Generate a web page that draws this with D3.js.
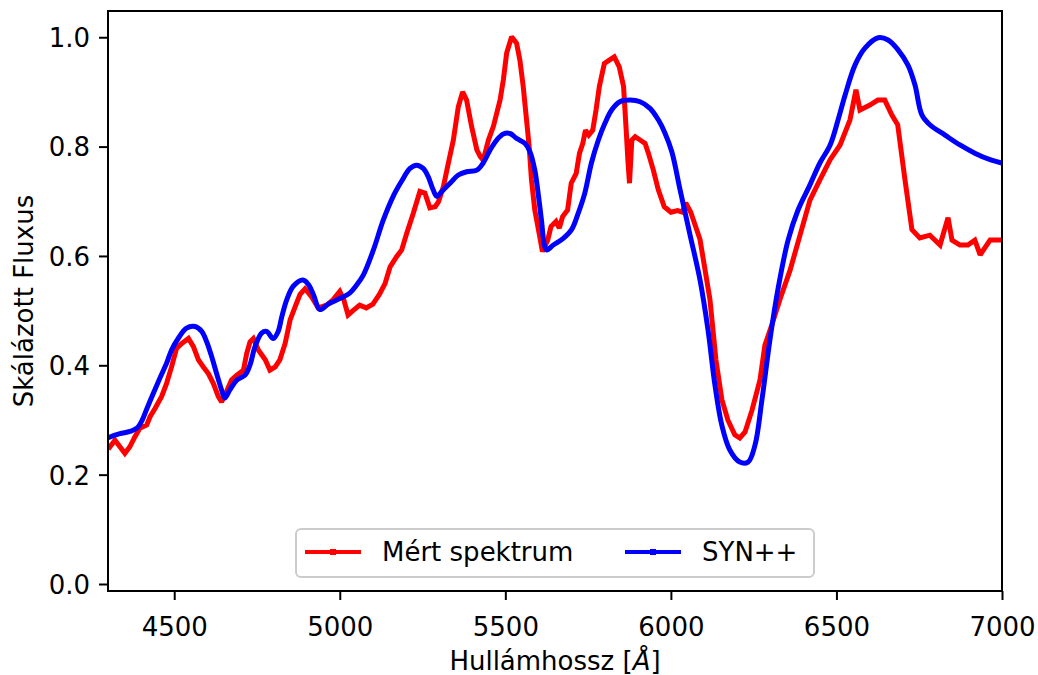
<!DOCTYPE html>
<html>
<head>
<meta charset="utf-8">
<script src="https://cdn.jsdelivr.net/npm/d3@7"></script>
<style>
  html, body { margin: 0; padding: 0; background: #fff; }
  svg { display: block; }
  text { font-family: "DejaVu Sans", sans-serif; fill: #000; }
</style>
</head>
<body>
<svg id="chart" width="1038" height="675"></svg>
<script>
// Measured spectrum: wavelength (Å) and scaled flux
const measuredWave = [
  4300, 4306, 4321, 4336, 4351, 4366, 4381, 4396, 4417, 4427, 4442, 4462, 4477, 4492, 4507, 4523,
  4543, 4558, 4573, 4588, 4603, 4618, 4633, 4643, 4658, 4673, 4689, 4709, 4719, 4729, 4739, 4754,
  4775, 4789, 4805, 4819, 4835, 4850, 4865, 4880, 4895, 4915, 4935, 4960, 4980, 5000, 5012, 5025,
  5040, 5060, 5080, 5100, 5120, 5137, 5152, 5172, 5187, 5202, 5222, 5242, 5257, 5272, 5288, 5298,
  5313, 5328, 5343, 5358, 5371, 5383, 5398, 5414, 5424, 5433, 5449, 5464, 5474, 5484, 5494, 5504,
  5519, 5534, 5544, 5554, 5564, 5572, 5579, 5589, 5604, 5612, 5628, 5638, 5653, 5663, 5673, 5688,
  5699, 5714, 5724, 5734, 5742, 5752, 5764, 5774, 5784, 5799, 5814, 5829, 5844, 5857, 5865, 5870,
  5875, 5882, 5892, 5907, 5922, 5932, 5947, 5962, 5980, 6000, 6020, 6035, 6045, 6060, 6088, 6118,
  6136, 6154, 6172, 6193, 6208, 6224, 6245, 6269, 6284, 6305, 6329, 6360, 6390, 6420, 6450, 6481,
  6511, 6541, 6559, 6571, 6601, 6625, 6646, 6667, 6685, 6707, 6728, 6752, 6782, 6813, 6837, 6849,
  6873, 6897, 6918, 6934, 6964, 7000
];
const measuredFlux = [
  0.255, 0.251, 0.263, 0.251, 0.239, 0.251, 0.269, 0.285, 0.291, 0.306, 0.321, 0.343, 0.367, 0.397, 0.431, 0.440,
  0.449, 0.434, 0.410, 0.397, 0.385, 0.367, 0.343, 0.333, 0.352, 0.373, 0.382, 0.391, 0.422, 0.443, 0.449, 0.428,
  0.410, 0.391, 0.397, 0.410, 0.440, 0.483, 0.507, 0.530, 0.540, 0.525, 0.505, 0.510, 0.520, 0.535, 0.520, 0.492,
  0.500, 0.510, 0.505, 0.512, 0.530, 0.550, 0.580, 0.599, 0.611, 0.641, 0.678, 0.718, 0.715, 0.688, 0.690, 0.699,
  0.727, 0.770, 0.812, 0.873, 0.900, 0.885, 0.837, 0.794, 0.782, 0.775, 0.812, 0.837, 0.861, 0.885, 0.922, 0.971,
  1.001, 0.989, 0.958, 0.910, 0.849, 0.800, 0.739, 0.684, 0.635, 0.608, 0.629, 0.654, 0.663, 0.651, 0.672, 0.684,
  0.733, 0.751, 0.788, 0.806, 0.830, 0.821, 0.830, 0.867, 0.910, 0.952, 0.958, 0.964, 0.946, 0.910, 0.830, 0.776,
  0.733, 0.812, 0.818, 0.812, 0.806, 0.788, 0.757, 0.721, 0.690, 0.680, 0.683, 0.680, 0.697, 0.680, 0.630, 0.520,
  0.410, 0.337, 0.300, 0.273, 0.267, 0.278, 0.318, 0.373, 0.437, 0.474, 0.520, 0.574, 0.638, 0.702, 0.739, 0.776,
  0.803, 0.849, 0.904, 0.867, 0.876, 0.885, 0.885, 0.858, 0.840, 0.739, 0.648, 0.633, 0.638, 0.620, 0.670, 0.629,
  0.620, 0.620, 0.629, 0.602, 0.629, 0.629
];

// SYN++ synthetic spectrum: wavelength (Å) and scaled flux
const synWave = [
  4300, 4306, 4336, 4366, 4387, 4402, 4417, 4437, 4457, 4477, 4492, 4512, 4537, 4563, 4583, 4598,
  4613, 4628, 4643, 4653, 4668, 4689, 4714, 4729, 4744, 4764, 4779, 4799, 4814, 4825, 4840, 4860,
  4889, 4905, 4920, 4940, 4965, 5000, 5030, 5050, 5071, 5101, 5131, 5162, 5187, 5212, 5232, 5252,
  5267, 5282, 5293, 5308, 5333, 5358, 5383, 5414, 5433, 5454, 5474, 5494, 5514, 5534, 5559, 5574,
  5589, 5599, 5609, 5619, 5625, 5645, 5675, 5700, 5720, 5740, 5760, 5781, 5801, 5821, 5846, 5877,
  5907, 5937, 5962, 5982, 6003, 6028, 6058, 6088, 6112, 6133, 6154, 6178, 6208, 6233, 6254, 6275,
  6299, 6323, 6354, 6384, 6420, 6450, 6481, 6505, 6526, 6556, 6586, 6626, 6656, 6686, 6716, 6737,
  6758, 6782, 6828, 6873, 6918, 6964, 7000
];
const synFlux = [
  0.267, 0.269, 0.275, 0.279, 0.285, 0.298, 0.320, 0.349, 0.377, 0.404, 0.428, 0.449, 0.468, 0.471, 0.462, 0.443,
  0.416, 0.385, 0.355, 0.340, 0.355, 0.373, 0.382, 0.401, 0.434, 0.459, 0.462, 0.449, 0.462, 0.489, 0.520, 0.545,
  0.556, 0.548, 0.530, 0.502, 0.512, 0.522, 0.532, 0.546, 0.565, 0.610, 0.665, 0.710, 0.737, 0.760, 0.766, 0.760,
  0.745, 0.721, 0.709, 0.718, 0.733, 0.748, 0.754, 0.757, 0.770, 0.794, 0.812, 0.823, 0.824, 0.815, 0.806, 0.791,
  0.757, 0.715, 0.666, 0.617, 0.611, 0.620, 0.632, 0.648, 0.678, 0.715, 0.770, 0.812, 0.843, 0.867, 0.882, 0.885,
  0.882, 0.870, 0.849, 0.825, 0.790, 0.720, 0.638, 0.556, 0.465, 0.364, 0.290, 0.245, 0.223, 0.223, 0.254, 0.337,
  0.446, 0.538, 0.629, 0.684, 0.730, 0.770, 0.803, 0.849, 0.894, 0.949, 0.980, 0.999, 0.995, 0.977, 0.949, 0.913,
  0.858, 0.840, 0.821, 0.803, 0.788, 0.776, 0.770
];

const xTicks = [4500, 5000, 5500, 6000, 6500, 7000];
const yTicks = [0.0, 0.2, 0.4, 0.6, 0.8, 1.0];
const seriesNames = ["Mért spektrum", "SYN++"];
const seriesColors = ["#ff0000", "#0000ff"];

const svg = d3.select("#chart");
const plot = { left: 108, right: 1002, top: 11, bottom: 591 };

const x = d3.scaleLinear().domain([4300, 7000]).range([plot.left, plot.right]);
const y = d3.scaleLinear().domain([-0.0128, 1.048]).range([plot.bottom, plot.top]);

svg.append("defs").append("clipPath").attr("id", "plot-clip")
  .append("rect")
  .attr("x", plot.left).attr("y", plot.top)
  .attr("width", plot.right - plot.left).attr("height", plot.bottom - plot.top);

const lineGen = (curve) => d3.line().x(d => x(d[0])).y(d => y(d[1])).curve(curve);

const measured = d3.zip(measuredWave, measuredFlux);
const syn = d3.zip(synWave, synFlux);

const lines = svg.append("g").attr("clip-path", "url(#plot-clip)");
lines.append("path")
  .datum(measured)
  .attr("d", lineGen(d3.curveLinear))
  .attr("fill", "none")
  .attr("stroke", seriesColors[0])
  .attr("stroke-width", 5)
  .attr("stroke-linejoin", "miter")
  .attr("stroke-miterlimit", 2);
lines.append("path")
  .datum(syn)
  .attr("d", lineGen(d3.curveCatmullRom.alpha(0.5)))
  .attr("fill", "none")
  .attr("stroke", seriesColors[1])
  .attr("stroke-width", 5)
  .attr("stroke-linejoin", "round");

// Axes
const fontSize = 26;
const xAxis = d3.axisBottom(x).tickValues(xTicks).tickSize(9).tickPadding(9).tickFormat(d3.format("d"));
const yAxis = d3.axisLeft(y).tickValues(yTicks).tickSize(9).tickPadding(9).tickFormat(d3.format(".1f"));

const gx = svg.append("g").attr("transform", `translate(0,${plot.bottom})`).call(xAxis);
const gy = svg.append("g").attr("transform", `translate(${plot.left},0)`).call(yAxis);
[gx, gy].forEach(g => {
  g.select(".domain").remove();
  g.selectAll(".tick line").attr("stroke", "#000").attr("stroke-width", 2);
  g.selectAll(".tick text").style("font-family", "DejaVu Sans").style("font-size", fontSize + "px").attr("fill", "#000");
});
gx.selectAll(".tick text").attr("dy", null).attr("y", 45);
gy.selectAll(".tick text").attr("dy", "0.36em");

// Frame
svg.append("rect")
  .attr("x", plot.left).attr("y", plot.top)
  .attr("width", plot.right - plot.left).attr("height", plot.bottom - plot.top)
  .attr("fill", "none").attr("stroke", "#000").attr("stroke-width", 2);

// Axis labels
const xl = svg.append("text")
  .attr("x", (plot.left + plot.right) / 2).attr("y", 670)
  .attr("text-anchor", "middle").style("font-size", fontSize + "px");
xl.append("tspan").text("Hullámhossz [");
xl.append("tspan").attr("font-style", "italic").text("Å");
xl.append("tspan").text("]");

svg.append("text")
  .attr("transform", `translate(33,${(plot.top + plot.bottom) / 2}) rotate(-90)`)
  .attr("text-anchor", "middle").style("font-size", fontSize + "px")
  .text("Skálázott Fluxus");

// Legend
const legend = svg.append("g");
legend.append("rect")
  .attr("x", 296).attr("y", 529).attr("width", 518).attr("height", 48)
  .attr("rx", 5).attr("ry", 5)
  .attr("fill", "#fff").attr("fill-opacity", 0.8)
  .attr("stroke", "#cccccc").attr("stroke-width", 2);
const entryX = [305, 625];
seriesNames.forEach((name, i) => {
  const g = legend.append("g").attr("transform", `translate(${entryX[i]},552)`);
  g.append("line").attr("x1", 0).attr("x2", 56).attr("y1", 0).attr("y2", 0)
    .attr("stroke", seriesColors[i]).attr("stroke-width", 4);
  g.append("rect").attr("x", 25).attr("y", -3).attr("width", 6).attr("height", 6)
    .attr("fill", seriesColors[i]);
  g.append("text").attr("x", 77).attr("y", 0).attr("dy", "0.36em")
    .style("font-size", fontSize + "px").text(name);
});
</script>
</body>
</html>
